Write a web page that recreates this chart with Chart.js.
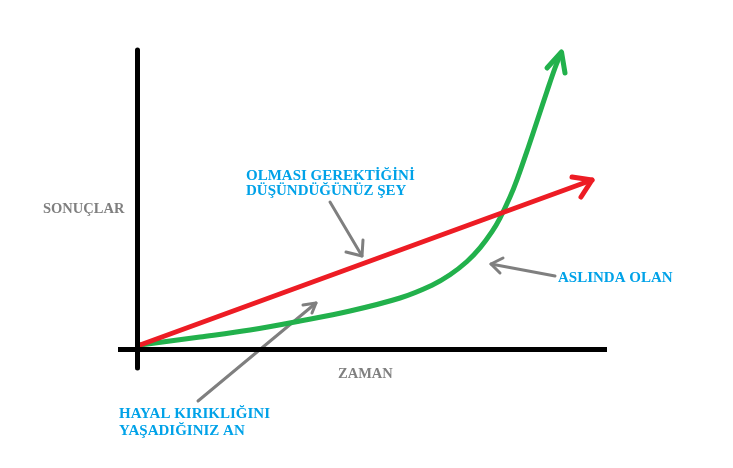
<!DOCTYPE html>
<html>
<head>
<meta charset="utf-8">
<script src="https://cdn.jsdelivr.net/npm/chart.js@4/dist/chart.umd.min.js"></script>
<style>
  html, body { margin: 0; padding: 0; background: #fff; }
  #wrap { width: 733px; height: 468px; }
</style>
</head>
<body>
<div id="wrap"><canvas id="c" width="733" height="468"></canvas></div>
<script>
// ---- Data (time units on x, result units on y) ----
const axisTimeX = [-2.2, 46.7];
const axisResultX = [-0.45, -0.45];
const axisTimeY = [-0.25, -0.25];
const axisResultY = [29.5, -2.3];

// expected (red) line
const expectedTime = [0, 45.2];
const expectedResult = [0, 16.5];
const expectedHeadTime = [43.2, 45.2, 44.1];
const expectedHeadResult = [16.8, 16.5, 14.8];

// actual (green) curve
const actualTime = [0, 6, 11, 16, 21, 26, 29.2, 31, 32.7, 34, 35.2, 36, 37, 37.7, 38.8, 39.8, 40.7, 41.5, 42.1];
const actualResult = [0, 0.8, 1.5, 2.4, 3.4, 4.7, 5.98, 7.02, 8.35, 9.71, 11.33, 12.69, 14.79, 16.54, 19.68, 22.68, 25.38, 27.7, 29.2];
const actualHeadTime = [40.7, 42.15, 42.5];
const actualHeadResult = [27.7, 29.3, 27.2];

// pointer arrows (gray)
const ptr1Time = [19, 22.2];      const ptr1Result = [14.3, 8.9];
const ptr1HeadTime = [20.6, 22.2, 22.3]; const ptr1HeadResult = [9.3, 8.9, 10.5];
const ptr2Time = [5.8, 17.6];     const ptr2Result = [-5.6, 4.2];
const ptr2HeadTime = [16.3, 17.6, 17.2]; const ptr2HeadResult = [4.0, 4.2, 3.2];
const ptr3Time = [41.5, 35.1];    const ptr3Result = [6.9, 8.1];
const ptr3HeadTime = [36.3, 35.1, 36.0]; const ptr3HeadResult = [8.7, 8.1, 7.2];

// labels
const labelTexts = ["SONUÇLAR", "ZAMAN", "OLMASI GEREKTİĞİNİ", "DÜŞÜNDÜĞÜNÜZ ŞEY", "ASLINDA OLAN", "HAYAL KIRIKLIĞINI", "YAŞADIĞINIZ AN"];

// ---- build ----
const zip = (xs, ys) => xs.map((x, i) => ({ x, y: ys[i] }));
const BLACK = '#000000', RED = '#ED1C24', GREEN = '#22B14C', GRAY = '#7F7F7F', BLUE = '#00A2E8';

function ds(xs, ys, color, width, extra) {
  return Object.assign({
    data: zip(xs, ys), showLine: true, borderColor: color, backgroundColor: color,
    borderWidth: width, pointRadius: 0, pointHoverRadius: 0, fill: false,
    borderCapStyle: 'round', borderJoinStyle: 'round', tension: 0
  }, extra || {});
}

const datasets = [
  ds(axisTimeX, axisResultX, BLACK, 5, { borderCapStyle: 'butt' }),
  ds(axisTimeY, axisResultY, BLACK, 5, { borderCapStyle: 'butt' }),
  ds(expectedTime, expectedResult, RED, 5),
  ds(expectedHeadTime, expectedHeadResult, RED, 5),
  ds(actualTime, actualResult, GREEN, 5, { tension: 0.35, capBezierPoints: false }),
  ds(actualHeadTime, actualHeadResult, GREEN, 5),
  ds(ptr1Time, ptr1Result, GRAY, 3),
  ds(ptr1HeadTime, ptr1HeadResult, GRAY, 3),
  ds(ptr2Time, ptr2Result, GRAY, 3),
  ds(ptr2HeadTime, ptr2HeadResult, GRAY, 3),
  ds(ptr3Time, ptr3Result, GRAY, 3),
  ds(ptr3HeadTime, ptr3HeadResult, GRAY, 3)
];

// label placement (left x, baseline y in chart units) and style
const labelSpecs = [
  { t: 0, x: -9.7, y: 13.2, c: GRAY, s: 14.5 },
  { t: 1, x: 19.8, y: -3.3, c: GRAY, s: 14.5 },
  { t: 2, x: 10.6, y: 16.55, c: BLUE, s: 15 },
  { t: 3, x: 10.6, y: 15.05, c: BLUE, s: 15 },
  { t: 4, x: 41.8, y: 6.3, c: BLUE, s: 15 },
  { t: 5, x: -2.1, y: -7.3, c: BLUE, s: 15 },
  { t: 6, x: -2.1, y: -9.0, c: BLUE, s: 15 }
];

const textPlugin = {
  id: 'texts',
  afterDatasetsDraw(chart) {
    const ctx = chart.ctx, xs = chart.scales.x, ys = chart.scales.y;
    ctx.save();
    ctx.textAlign = 'left';
    ctx.textBaseline = 'alphabetic';
    labelSpecs.forEach(l => {
      ctx.font = 'bold ' + l.s + 'px "Liberation Serif", "Times New Roman", serif';
      ctx.fillStyle = l.c;
      ctx.fillText(labelTexts[l.t], xs.getPixelForValue(l.x), ys.getPixelForValue(l.y));
    });
    ctx.restore();
  }
};

new Chart(document.getElementById('c'), {
  type: 'scatter',
  data: { datasets },
  options: {
    responsive: false,
    animation: false,
    events: [],
    layout: { padding: 0 },
    plugins: { legend: { display: false }, tooltip: { enabled: false } },
    scales: {
      x: { type: 'linear', display: false, min: -14, max: 59.3 },
      y: { type: 'linear', display: false, min: -12.3, max: 34.5 }
    }
  },
  plugins: [textPlugin]
});
</script>
</body>
</html>
